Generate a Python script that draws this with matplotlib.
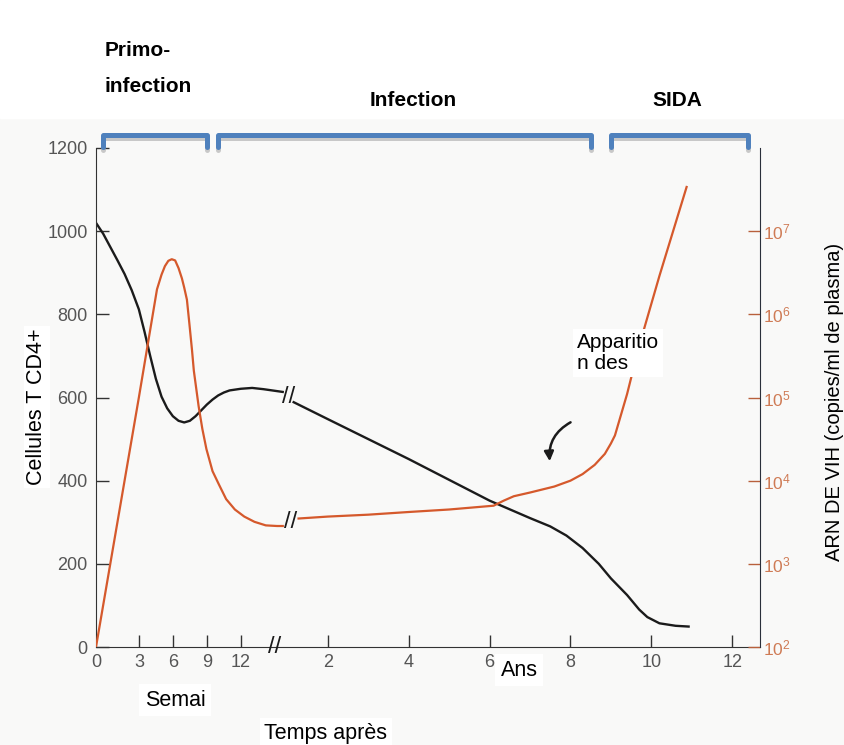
import numpy as np
import matplotlib
matplotlib.use("Agg")
import matplotlib.pyplot as plt
import matplotlib.patheffects as pe
from matplotlib.patches import Rectangle
from matplotlib.ticker import LogFormatterMathtext, NullLocator
from matplotlib.transforms import blended_transform_factory

plt.rcParams["font.family"] = ["Liberation Sans", "DejaVu Sans"]
plt.rcParams["mathtext.fontset"] = "custom"
plt.rcParams["mathtext.rm"] = "Liberation Sans"
plt.rcParams["mathtext.it"] = "Liberation Sans:italic"

# CD4+ T cells (cells/mm3) - first weeks, then years
cd4_weeks = [0, 0.5, 1, 1.5, 2, 2.5, 3, 3.5, 4, 4.5, 5, 5.5, 6, 6.5, 7, 7.5,
             8, 8.5, 9, 9.5, 10, 10.5, 11, 12, 13, 14, 15.8]
cd4_weeks_val = [1020, 994, 962, 930, 897, 858, 812, 758, 700, 645, 602, 574,
                 555, 544, 540, 544, 555, 569, 583, 595, 605, 612, 617, 621,
                 623, 620, 613]
cd4_years = [1.13, 2, 3, 4, 5, 6, 7, 7.5, 7.9, 8.3, 8.7, 9.0, 9.4, 9.7, 9.9,
             10.2, 10.6, 10.95]
cd4_years_val = [590, 548, 500, 452, 402, 352, 310, 290, 268, 238, 200, 165,
                 125, 90, 72, 57, 51, 49]

# HIV RNA (copies/ml of plasma)
rna_weeks = [0, 1, 2, 3, 4, 4.6, 5, 5.3, 5.6, 5.9, 6.2, 6.5, 6.8, 7.0, 7.24,
             7.45, 7.69, 7.85, 8.27, 8.6, 8.96, 9.5, 10.08, 10.7, 11.47, 12.3,
             13.2, 14.2, 15.2, 15.8]
rna_weeks_val = [1e2, 1.0e3, 1.0e4, 1.0e5, 6.5e5, 2.0e6, 3.0e6, 3.8e6, 4.4e6,
                 4.6e6, 4.45e6, 3.6e6, 2.7e6, 2.1e6, 1.5e6, 7.9e5, 3.7e5,
                 2.1e5, 7.9e4, 4.2e4, 2.4e4, 1.3e4, 8.9e3, 6.0e3, 4.5e3,
                 3.7e3, 3.2e3, 2.9e3, 2.85e3, 2.85e3]
rna_years = [1.25, 2, 3, 4, 5, 6.1, 6.35, 6.6, 7.0, 7.6, 8.0, 8.3, 8.6, 8.85,
             9.0, 9.1, 9.4, 9.7, 10.2, 10.88]
rna_years_val = [3.5e3, 3.7e3, 3.9e3, 4.2e3, 4.5e3, 5.0e3, 5.75e3, 6.5e3,
                 7.2e3, 8.5e3, 1.0e4, 1.2e4, 1.55e4, 2.1e4, 2.8e4, 3.5e4,
                 1.1e5, 4.2e5, 2.9e6, 3.5e7]

week_ticks = [0, 3, 6, 9, 12]
year_ticks = [2, 4, 6, 8, 10, 12]
cd4_ticks = [0, 200, 400, 600, 800, 1000, 1200]
rna_ticks = [1e2, 1e3, 1e4, 1e5, 1e6, 1e7]

# stage brackets (start, end) as (unit, value)
stages = [(("w", 0.5), ("w", 9.0)),
          (("w", 10.0), ("y", 8.5)),
          (("y", 9.0), ("y", 12.4))]


# broken time axis: weeks on the left part, years on the right part
def week_pos(w):
    return np.interp(w, [0, 3, 12, 20], [0, 3.55, 12, 19.5])


def year_pos(y):
    return 12.5 + 3.35 * np.asarray(y, dtype=float)


def to_pos(unit, v):
    return float(week_pos(v)) if unit == "w" else float(year_pos(v))


BLACK = "#1b1b1b"
RED = "#d5592c"
BLUE = "#4f81bd"

fig = plt.figure(figsize=(8.44, 7.45), dpi=100, facecolor="#f9f9f8")
fig.patches.append(Rectangle((0, 1 - 118 / 745), 1, 118 / 745,
                             transform=fig.transFigure, color="white", zorder=-1))

ax = fig.add_axes([96 / 844, 1 - 647 / 745, 664 / 844, 499 / 745])
ax.set_facecolor("none")
ax2 = ax.twinx()

ax.plot(week_pos(cd4_weeks), cd4_weeks_val, color=BLACK, lw=1.7, solid_capstyle="butt")
ax.plot(year_pos(cd4_years), cd4_years_val, color=BLACK, lw=1.7, solid_capstyle="butt")
ax2.plot(week_pos(rna_weeks), rna_weeks_val, color=RED, lw=1.6, solid_capstyle="butt")
ax2.plot(year_pos(rna_years), rna_years_val, color=RED, lw=1.6, solid_capstyle="butt")

ax.set_xlim(0, 55)
ax.set_ylim(0, 1200)
ax2.set_yscale("log")
ax2.set_ylim(1e2, 1e8)

# break marks
gap_cd4 = (float(week_pos(cd4_weeks[-1])) + float(year_pos(cd4_years[0]))) / 2
gap_rna = (float(week_pos(rna_weeks[-1])) + float(year_pos(rna_years[0]))) / 2
ax.text(gap_cd4, (cd4_weeks_val[-1] + cd4_years_val[0]) / 2, "//", ha="center",
        va="center", fontsize=17, color=BLACK)
ax2.text(gap_rna, np.sqrt(rna_weeks_val[-1] * rna_years_val[0]), "//", ha="center",
         va="center", fontsize=17, color=BLACK)
ax.text(gap_rna - 1.3, 0, "//", ha="center", va="center", fontsize=17,
        color=BLACK, clip_on=False)

# axes, ticks
xt = list(week_pos(week_ticks)) + list(year_pos(year_ticks))
ax.set_xticks(xt)
ax.set_xticklabels([str(t) for t in week_ticks] + [str(t) for t in year_ticks])
ax.set_yticks(cd4_ticks)
ax.tick_params(axis="both", direction="in", length=9, width=1, color="#333333",
               labelcolor="#555555", labelsize=13)
ax.tick_params(axis="x", pad=5)
ax.tick_params(axis="y", pad=6)
ax.xaxis.get_major_ticks()[0].tick1line.set_visible(False)

ax2.set_yticks(rna_ticks)
ax2.yaxis.set_minor_locator(NullLocator())
ax2.yaxis.set_major_formatter(LogFormatterMathtext())
ax2.tick_params(axis="y", direction="in", length=9, width=1, color="#b8603c",
                labelcolor="#cf7b55", labelsize=12.5, pad=2)

for s in ["top", "right"]:
    ax.spines[s].set_visible(False)
for s in ["top", "left", "bottom"]:
    ax2.spines[s].set_visible(False)
ax.spines["left"].set_color("#333333")
ax.spines["bottom"].set_color("#333333")
ax2.spines["right"].set_color("#2a2f3a")

# stage brackets above the plot
trans = blended_transform_factory(ax.transData, ax.transAxes)
for (ua, va_), (ub, vb) in stages:
    x0, x1 = to_pos(ua, va_), to_pos(ub, vb)
    ax.plot([x0, x0, x1, x1], [1.002, 1.026, 1.026, 1.002], transform=trans,
            color=BLUE, lw=3.6, clip_on=False, solid_joinstyle="round",
            solid_capstyle="round",
            path_effects=[pe.SimpleLineShadow(offset=(0, -2), shadow_color="#999999",
                                              alpha=0.5), pe.Normal()])

# texts
bold = dict(fontsize=15, fontweight="bold", color="black")
fig.text(105 / 844, 1 - 50 / 745, "Primo-", ha="left", va="center", **bold)
fig.text(105 / 844, 1 - 87 / 745, "infection", ha="left", va="center", **bold)
fig.text(413 / 844, 1 - 100 / 745, "Infection", ha="center", va="center", **bold)
fig.text(677 / 844, 1 - 100 / 745, "SIDA", ha="center", va="center", **bold)

box = dict(facecolor="white", edgecolor="none", pad=2)
fig.text(37 / 844, 1 - 407 / 745, "Cellules T CD4+", rotation=90, ha="center",
         va="center", fontsize=15.5, bbox=box)
fig.text(834 / 844, 1 - 402 / 745, "ARN DE VIH (copies/ml de plasma)", rotation=90,
         ha="center", va="center", fontsize=14.5)
fig.text(577 / 844, 1 - 353 / 745, "Apparitio\nn des", ha="left", va="center",
         fontsize=15, linespacing=1.15, bbox=dict(facecolor="white", edgecolor="none", pad=3))
fig.text(175 / 844, 1 - 700 / 745, "Semai", ha="center", va="center", fontsize=15.5,
         bbox=dict(facecolor="white", edgecolor="none", pad=4))
fig.text(519 / 844, 1 - 670 / 745, "Ans", ha="center", va="center", fontsize=15.5,
         bbox=dict(facecolor="white", edgecolor="none", pad=4))
fig.text(326 / 844, 1 - 733 / 745, "Temps après", ha="center", va="center",
         fontsize=15.5, bbox=dict(facecolor="white", edgecolor="none", pad=3))

ax.annotate("", xy=(550, 745 - 464), xytext=(573, 745 - 421),
            xycoords="figure pixels", textcoords="figure pixels",
            arrowprops=dict(arrowstyle="-|>", connectionstyle="arc3,rad=0.35",
                            color=BLACK, lw=1.8, mutation_scale=14))

fig.savefig("out.png", dpi=100, facecolor=fig.get_facecolor())
